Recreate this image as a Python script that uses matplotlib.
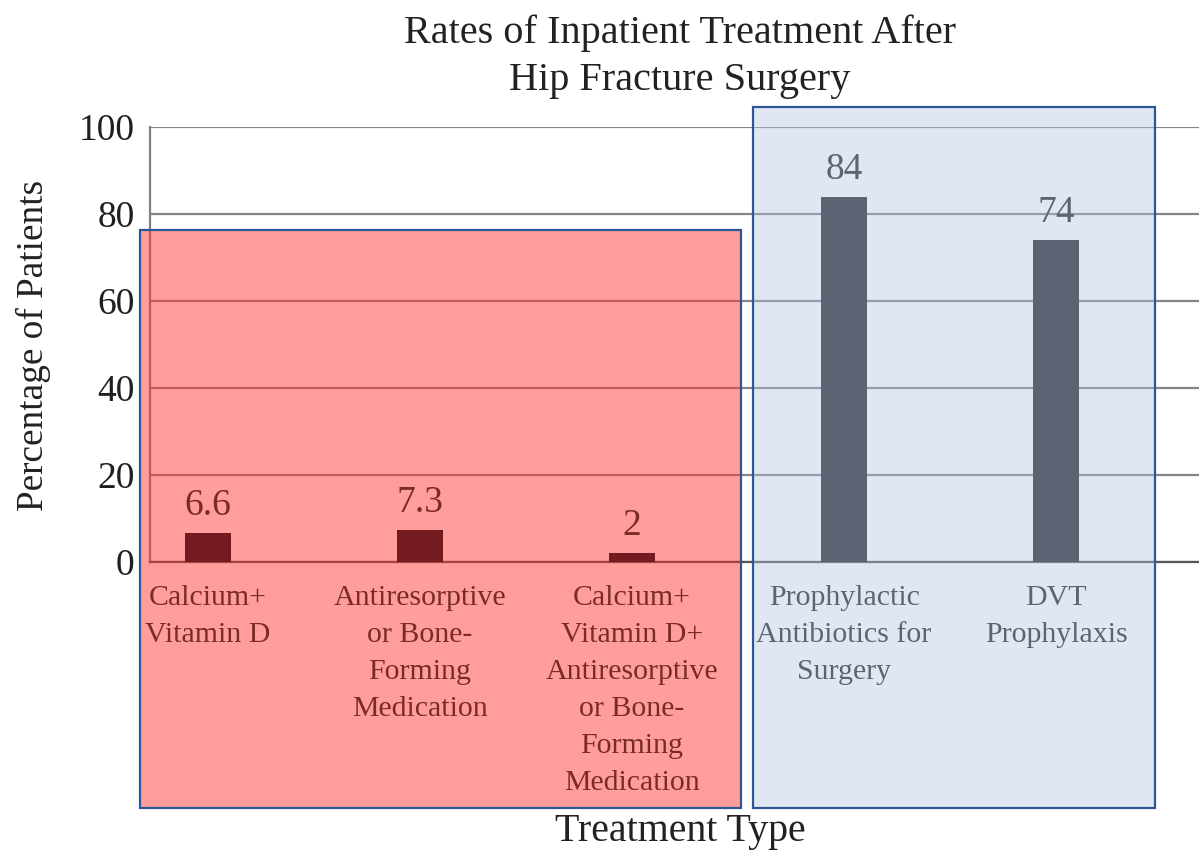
import matplotlib
matplotlib.use("Agg")
import matplotlib.pyplot as plt
from matplotlib.patches import Rectangle
import matplotlib.transforms as mtransforms

plt.rcParams['font.family'] = ['Liberation Serif', 'DejaVu Serif']

# data
categories = [
    "Calcium+\nVitamin D",
    "Antiresorptive\nor Bone-\nForming\nMedication",
    "Calcium+\nVitamin D+\nAntiresorptive\nor Bone-\nForming\nMedication",
    "Prophylactic\nAntibiotics for\nSurgery",
    "DVT\nProphylaxis",
]
values = [6.6, 7.3, 2, 84, 74]
value_labels = ["6.6", "7.3", "2", "84", "74"]
group = ["red", "red", "red", "blue", "blue"]
y_ticks = [0, 20, 40, 60, 80, 100]

bar_col = {"red": "#731b21", "blue": "#5d6372"}
txt_col = {"red": "#7b2a2a", "blue": "#5d6372"}

W, H = 1199, 850
fig = plt.figure(figsize=(W / 100, H / 100), dpi=100)
ax = fig.add_axes([150 / W, 1 - 562 / H, 1 - 150 / W, (562 - 127) / H])
ax.set_facecolor("none")

ax.bar(range(len(values)), values, width=0.22,
       color=[bar_col[g] for g in group], zorder=2)

for i, (v, lab) in enumerate(zip(values, value_labels)):
    ax.annotate(lab, (i, v), xytext=(0, 13), textcoords="offset points",
                ha="center", va="baseline", fontsize=27,
                color=txt_col[group[i]], zorder=3)

# category names under the bars
trans = mtransforms.blended_transform_factory(ax.transData, ax.transAxes)
for i, c in enumerate(categories):
    ax.text(i, -0.053, c, transform=trans, ha="center", va="top",
            fontsize=21.5, linespacing=1.55, color=txt_col[group[i]], zorder=3)

ax.set_xlim(-0.274, 4.674)
ax.set_ylim(0, 100)
ax.set_yticks(y_ticks)
ax.set_xticks([])
ax.tick_params(axis="y", length=0, pad=11, labelsize=27, labelcolor="#1f1f1f")
ax.set_axisbelow(True)
ax.yaxis.grid(True, color="#858585", linewidth=1.6)

for s in ["top", "right"]:
    ax.spines[s].set_visible(False)
ax.spines["left"].set_color("#808080")
ax.spines["left"].set_linewidth(1.6)
ax.spines["bottom"].set_color("#555555")
ax.spines["bottom"].set_linewidth(1.6)
ax.spines["left"].set_zorder(0.6)
ax.spines["bottom"].set_zorder(0.6)

# highlight boxes
red_box = Rectangle((140 / W, 1 - 808 / H), 601 / W, 578 / H,
                    transform=fig.transFigure, facecolor=(1, 0.2, 0.2, 0.48),
                    edgecolor="#2f5597", linewidth=1.6, clip_on=False, zorder=0.8)
blue_box = Rectangle((753 / W, 1 - 808 / H), 402 / W, 701 / H,
                     transform=fig.transFigure, facecolor=(0.70, 0.765, 0.89, 0.4),
                     edgecolor="#2f5597", linewidth=1.6, clip_on=False, zorder=0.8)
ax.add_patch(red_box)
ax.add_patch(blue_box)

fig.text(680 / W, 1 - 14 / H, "Rates of Inpatient Treatment After\nHip Fracture Surgery",
         ha="center", va="top", fontsize=29, linespacing=1.38, color="#222222")
fig.text(33 / W, 1 - 345 / H, "Percentage of Patients", rotation=90,
         ha="center", va="center", fontsize=26.8, color="#222222")
fig.text(680 / W, 1 - 831 / H, "Treatment Type", ha="center", va="center",
         fontsize=28.7, color="#222222")

fig.savefig("out.png", dpi=100)
